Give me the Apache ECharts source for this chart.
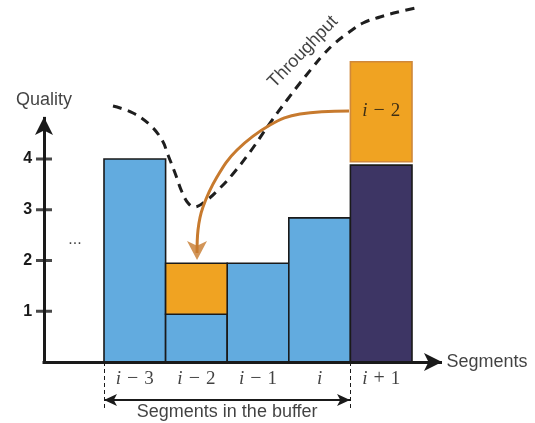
<!DOCTYPE html>
<html>
<head>
<meta charset="utf-8">
<script src="https://cdn.jsdelivr.net/npm/echarts@6/dist/echarts.min.js"></script>
<style>html,body{margin:0;padding:0;background:#fff;}#c{width:535px;height:423px;}</style>
</head>
<body>
<div id="c"></div>
<script>
// ---- data ----
const categories = ['i − 3', 'i − 2', 'i − 1', 'i', 'i + 1'];
const categoryPos = [0, 1, 2, 3, 4];
const bufferQuality = [4.0, 0.94, 1.945, 2.84];          // blue segments in buffer (i-3 .. i)
const nextQuality = 3.88;                                 // dark segment i+1
const replaceFrom = [0.94, 3.947];                        // orange: replaced segment (at i-2, and re-downloaded copy above i+1)
const replaceTo = [1.945, 5.917];
const replacePos = [1, 4];
const replaceLabel = 'i − 2';
const yTicks = [1, 2, 3, 4];
const throughputX = [-0.354, -0.029, 0.247, 0.442, 0.539, 0.653, 0.766, 0.864, 0.961, 1.172, 1.383, 1.578, 1.870, 2.195, 2.471, 2.682, 2.893, 3.055, 3.250, 3.461, 3.705, 3.981, 4.273, 4.630];
const throughputY = [5.044, 4.906, 4.670, 4.374, 4.079, 3.724, 3.350, 3.133, 3.054, 3.192, 3.429, 3.685, 4.138, 4.709, 5.163, 5.498, 5.813, 6.049, 6.286, 6.483, 6.680, 6.798, 6.897, 6.995];
const arrowX = [3.477, 2.682, 2.195, 1.659, 1.334, 1.107, 1.026, 1.010];
const arrowY = [4.946, 4.887, 4.670, 4.177, 3.645, 3.054, 2.601, 2.150];
const arrowHead = [1.010, 2.01];

// ---- layout ----
const axisX = -1.474;                       // position of the drawn quality axis
const xMin = -1.6, xMax = 6.4, yMin = -1, yMax = 7.1;
const PX_X = 61.6, PX_Y = 50.75;
const C_BLUE = '#62abdf', C_ORANGE = '#f0a322', C_DARK = '#3d3564', C_ARROW = '#c77a2e', C_INK = '#1a1a1a';
const SANS = '"Liberation Sans", Arial, sans-serif';
const SERIF = '"Liberation Serif", "Times New Roman", serif';

function rectItem(x, y0, y1, api, style) {
  const p0 = api.coord([x - 0.5, y1]);
  const p1 = api.coord([x + 0.5, y0]);
  return { type: 'rect', shape: { x: p0[0], y: p0[1], width: p1[0] - p0[0], height: p1[1] - p0[1] }, style: style };
}

const chart = echarts.init(document.getElementById('c'), null, { renderer: 'canvas' });

const blueData = bufferQuality.map((q, i) => [categoryPos[i], 0, q]);
const darkData = [[categoryPos[4], 0, nextQuality]];
const orangeData = replacePos.map((p, i) => [p, replaceFrom[i], replaceTo[i]]);

function textPoint(x, y, text, label) {
  return { value: [x, y], label: Object.assign({ show: true, formatter: text }, label) };
}

const mathRich = {
  it: { fontFamily: SERIF, fontStyle: 'italic', fontSize: 19, color: '#111' },
  op: { fontFamily: SERIF, fontSize: 20, color: '#111', padding: [0, 6, 0, 6] },
  rm: { fontFamily: SERIF, fontSize: 19, color: '#111' }
};
function mathText(s) {
  const p = s.split(' ');
  return '{it|' + p[0] + '}' + (p.length > 1 ? '{op|' + p[1] + '}{rm|' + p[2] + '}' : '');
}

const gridLeft = 134.8 + xMin * PX_X;
const gridW = (xMax - xMin) * PX_X;
const gridBottomPx = 362 - yMin * PX_Y;
const gridH = (yMax - yMin) * PX_Y;

const option = {
  animation: false,
  grid: { left: gridLeft, right: 535 - gridLeft - gridW, top: gridBottomPx - gridH, bottom: 423 - gridBottomPx, containLabel: false },
  xAxis: { type: 'value', min: xMin, max: xMax, show: false },
  yAxis: {
    type: 'value', min: yMin, max: yMax, interval: 1,
    axisLine: { show: false }, axisTick: { show: false }, splitLine: { show: false },
    axisLabel: {
      formatter: v => (yTicks.indexOf(v) >= 0 ? String(v) : ''),
      margin: 4, fontSize: 16, fontWeight: 'bold', color: C_INK, fontFamily: SANS,
      showMaxLabel: false
    }
  },
  series: [
    {
      type: 'custom', z: 2, data: blueData,
      renderItem: (p, api) => rectItem(api.value(0), api.value(1), api.value(2), api, { fill: C_BLUE, stroke: C_INK, lineWidth: 1.6 })
    },
    {
      type: 'custom', z: 2, data: darkData,
      renderItem: (p, api) => rectItem(api.value(0), api.value(1), api.value(2), api, { fill: C_DARK, stroke: C_INK, lineWidth: 1.6 })
    },
    {
      type: 'custom', z: 3, data: orangeData,
      renderItem: (p, api) => rectItem(api.value(0), api.value(1), api.value(2), api,
        p.dataIndex === 0 ? { fill: C_ORANGE, stroke: C_INK, lineWidth: 1.6 } : { fill: C_ORANGE, stroke: '#cf883a', lineWidth: 1.6 })
    },
    {
      type: 'line', z: 4, smooth: 0.4, symbol: 'none',
      data: throughputX.map((x, i) => [x, throughputY[i]]),
      lineStyle: { color: '#1e1e1e', width: 3, type: [9, 6.5], cap: 'butt' }
    },
    {
      type: 'line', z: 5, smooth: 0.4, symbol: 'none',
      data: arrowX.map((x, i) => [x, arrowY[i]]),
      lineStyle: { color: C_ARROW, width: 3 }
    },
    {
      type: 'scatter', z: 6, symbol: 'arrow', symbolSize: [15, 19], symbolRotate: 180,
      itemStyle: { color: C_ARROW }, data: [arrowHead]
    },
    // axes with arrows
    {
      type: 'line', z: 8, data: [], silent: true,
      markLine: {
        silent: true, symbol: ['none', 'arrow'], symbolSize: [13.5, 18],
        lineStyle: { color: C_INK, width: 3, type: 'solid' }, label: { show: false },
        emphasis: { disabled: true },
        data: [
          [{ coord: [axisX, -0.03] }, { coord: [axisX, 4.83] }],
          [{ coord: [axisX - 0.024, 0] }, { coord: [4.987, 0] }]
        ]
      }
    },
    // buffer double arrow
    {
      type: 'line', z: 8, data: [], silent: true,
      markLine: {
        silent: true, symbol: ['arrow', 'arrow'], symbolSize: [9, 13],
        lineStyle: { color: C_INK, width: 2, type: 'solid' }, label: { show: false },
        emphasis: { disabled: true },
        data: [[{ coord: [-0.5, -0.749] }, { coord: [3.494, -0.749] }]]
      }
    },
    // dashed boundary lines
    {
      type: 'line', z: 8, data: [], silent: true,
      markLine: {
        silent: true, symbol: ['none', 'none'],
        lineStyle: { color: C_INK, width: 1, type: [4, 3] }, label: { show: false },
        emphasis: { disabled: true },
        data: [
          [{ coord: [-0.5, 0] }, { coord: [-0.5, -0.906] }],
          [{ coord: [3.5, 0] }, { coord: [3.5, -0.906] }]
        ]
      }
    },
    // y tick marks
    {
      type: 'scatter', z: 9, symbol: 'rect', symbolSize: [16, 3],
      itemStyle: { color: C_INK }, data: yTicks.map(v => [axisX, v])
    },
    // texts
    {
      type: 'scatter', z: 10, symbolSize: 1, silent: true,
      itemStyle: { color: 'rgba(0,0,0,0)' },
      label: { show: true, position: 'inside', color: '#111', fontFamily: SANS, fontSize: 18 },
      data: [].concat(
        categories.map((c, i) => textPoint(categoryPos[i], -0.335, mathText(c), { rich: mathRich })),
        [
          textPoint(replacePos[1], 4.95, mathText(replaceLabel), { rich: mathRich }),
          textPoint(1.5, -0.985, 'Segments in the buffer', {}),
          textPoint(axisX, 5.16, 'Quality', {}),
          textPoint(5.05, 0.0, 'Segments', { position: 'right', distance: 0 }),
          textPoint(2.73, 6.11, 'Throughput', { rotate: 46 }),
          textPoint(-0.971, 2.42, '...', { fontSize: 16 })
        ]
      )
    }
  ]
};
chart.setOption(option);
</script>
</body>
</html>
